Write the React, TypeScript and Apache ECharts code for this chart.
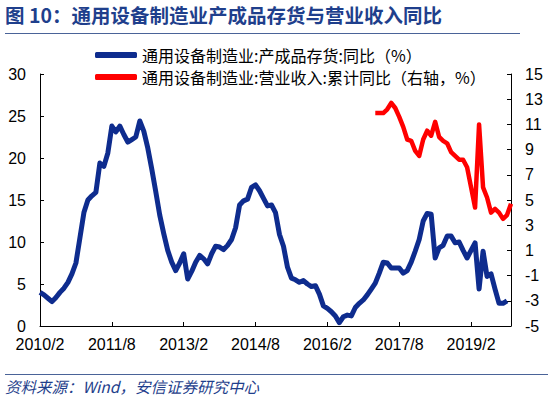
import React, { useEffect, useRef } from "react";
import * as echarts from "echarts";

// Months from 2010/2 to 2019/12
const startYear = 2010;
const startMonth = 2;
const monthCount = 119;
const categories: string[] = [];
for (let i = 0; i < monthCount; i++) {
  const t = startMonth - 1 + i;
  categories.push(`${startYear + Math.floor(t / 12)}/${(t % 12) + 1}`);
}

// 通用设备制造业:产成品存货:同比（%） — left axis
const inventoryYoY: (number | null)[] = [
  4.0, 3.7, 3.3, 2.9, 3.4, 4.0, 4.5, 5.2, 6.2, 7.5,
  10.5, 13.5, 15.0, 15.5, 15.9, 19.4, 19.0, 20.6, 23.8, 23.1,
  23.8, 22.8, 21.9, 22.2, 22.5, 24.4, 23.2, 21.2, 18.7, 16.0,
  13.2, 11.0, 9.0, 7.6, 6.6, 7.5, 8.6, 5.6, 6.5, 7.6,
  8.4, 8.0, 7.4, 8.6, 9.5, 9.4, 9.1, 9.6, 10.3, 11.7,
  14.4, 14.9, 15.1, 16.5, 16.8, 16.1, 15.2, 14.3, 14.4, 13.5,
  10.9, 9.5, 7.0, 5.7, 5.5, 5.2, 5.4, 5.0, 4.7, 4.8,
  3.8, 2.4, 2.1, 1.7, 1.2, 0.4, 1.1, 1.3, 1.2, 2.2,
  2.7, 3.1, 3.7, 4.4, 5.1, 6.3, 7.6, 7.5, 6.9, 6.9,
  6.9, 6.3, 6.6, 7.6, 8.9, 10.3, 12.5, 13.4, 13.3, 8.1,
  9.3, 9.6, 10.7, 10.7, 9.9, 10.0, 9.0, 8.1, 9.0, 9.9,
  4.4, 8.9, 5.9, 6.2, 4.4, 2.7, 2.7, 3.0, null,
];

// 通用设备制造业:营业收入:累计同比（右轴，%） — from 2017/2
const revenueStartIndex = 84;
const revenueCumYoY: number[] = [
  11.9, 11.9, 11.9, 12.2, 12.7, 12.3, 11.6, 10.8, 9.8, 9.7,
  8.9, 8.5, 9.8, 10.5, 10.1, 11.2, 10.0, 9.7, 9.5, 8.8,
  8.5, 8.2, 8.2, 7.6, 6.0, 4.4, 11.0, 6.0, 5.2, 4.0,
  4.3, 4.0, 3.5, 3.8, 4.7,
];

const leftTicks = { min: 0, max: 30, interval: 5 };
const rightTicks = { min: -5, max: 15, interval: 2 };

const titleText = "图 10：通用设备制造业产成品存货与营业收入同比";
const sourceText = "资料来源：Wind，安信证券研究中心";
const seriesNames = [
  "通用设备制造业:产成品存货:同比（%）",
  "通用设备制造业:营业收入:累计同比（右轴，%）",
];

const BLUE = "#0E2C8E";
const RED = "#FF0000";
const NAVY = "#1F3F8C";
const CJK = '"Noto Sans CJK SC", "Liberation Sans", sans-serif';
const LATIN = '"Liberation Sans", Arial, sans-serif';

export default function App() {
  const ref = useRef<HTMLDivElement>(null);
  useEffect(() => {
    document.body.style.margin = "0";
    if (!ref.current) return;
    const chart = echarts.init(ref.current, undefined, { renderer: "svg" });
    const revenueData: (number | null)[] = categories.map((_, i) => {
      const k = i - revenueStartIndex;
      return k >= 0 && k < revenueCumYoY.length ? revenueCumYoY[k] : null;
    });
    chart.setOption({
      animation: false,
      backgroundColor: "#ffffff",
      grid: { left: 40, right: 39, top: 74, bottom: 72, containLabel: false },
      legend: {
        orient: "vertical",
        left: 95,
        top: 47,
        padding: 0,
        itemWidth: 42,
        itemHeight: 6,
        itemGap: 6,
        icon: "roundRect",
        textStyle: { fontFamily: CJK, fontSize: 16, lineHeight: 16, color: "#000" },
        data: seriesNames,
      },
      xAxis: {
        type: "category",
        data: categories,
        boundaryGap: false,
        axisLine: { lineStyle: { color: "#000", width: 1 } },
        axisTick: { inside: true, length: 4, interval: 17, lineStyle: { color: "#000" } },
        axisLabel: {
          interval: 17,
          margin: 10,
          fontFamily: LATIN,
          fontSize: 16,
          color: "#000",
        },
        splitLine: { show: false },
      },
      yAxis: [
        {
          type: "value",
          min: leftTicks.min,
          max: leftTicks.max,
          interval: leftTicks.interval,
          axisLine: { show: true, lineStyle: { color: "#000", width: 1 } },
          axisTick: { show: true, inside: true, length: 4, lineStyle: { color: "#000" } },
          axisLabel: { margin: 14, fontFamily: LATIN, fontSize: 16, color: "#000" },
          splitLine: { show: false },
        },
        {
          type: "value",
          min: rightTicks.min,
          max: rightTicks.max,
          interval: rightTicks.interval,
          position: "right",
          axisLine: { show: true, lineStyle: { color: "#000", width: 1 } },
          axisTick: { show: true, inside: true, length: 4, lineStyle: { color: "#000" } },
          axisLabel: { margin: 14, fontFamily: LATIN, fontSize: 16, color: "#000" },
          splitLine: { show: false },
        },
      ],
      series: [
        {
          name: seriesNames[0],
          type: "line",
          data: inventoryYoY,
          yAxisIndex: 0,
          showSymbol: false,
          symbol: "none",
          lineStyle: { color: BLUE, width: 5, join: "round" },
          itemStyle: { color: BLUE },
        },
        {
          name: seriesNames[1],
          type: "line",
          data: revenueData,
          yAxisIndex: 1,
          showSymbol: false,
          symbol: "none",
          lineStyle: { color: RED, width: 4.5, join: "round" },
          itemStyle: { color: RED },
        },
      ],
      graphic: [
        {
          type: "text",
          left: 5,
          top: 5,
          style: {
            text: titleText,
            fontFamily: CJK,
            fontWeight: "bold",
            fontSize: 19.5,
            fill: NAVY,
          },
        },
        {
          type: "line",
          shape: { x1: 5, y1: 33.5, x2: 520, y2: 33.5 },
          style: { stroke: "#4A6398", lineWidth: 1 },
        },
        {
          type: "line",
          shape: { x1: 5, y1: 374.5, x2: 548, y2: 374.5 },
          style: { stroke: "#4A6398", lineWidth: 1 },
        },
        {
          type: "text",
          left: 5,
          top: 378,
          style: {
            text: sourceText,
            fontFamily: CJK,
            fontStyle: "italic",
            fontSize: 15.5,
            fill: NAVY,
          },
        },
      ],
    });
    return () => chart.dispose();
  }, []);
  return <div ref={ref} style={{ width: 550, height: 398 }} />;
}
